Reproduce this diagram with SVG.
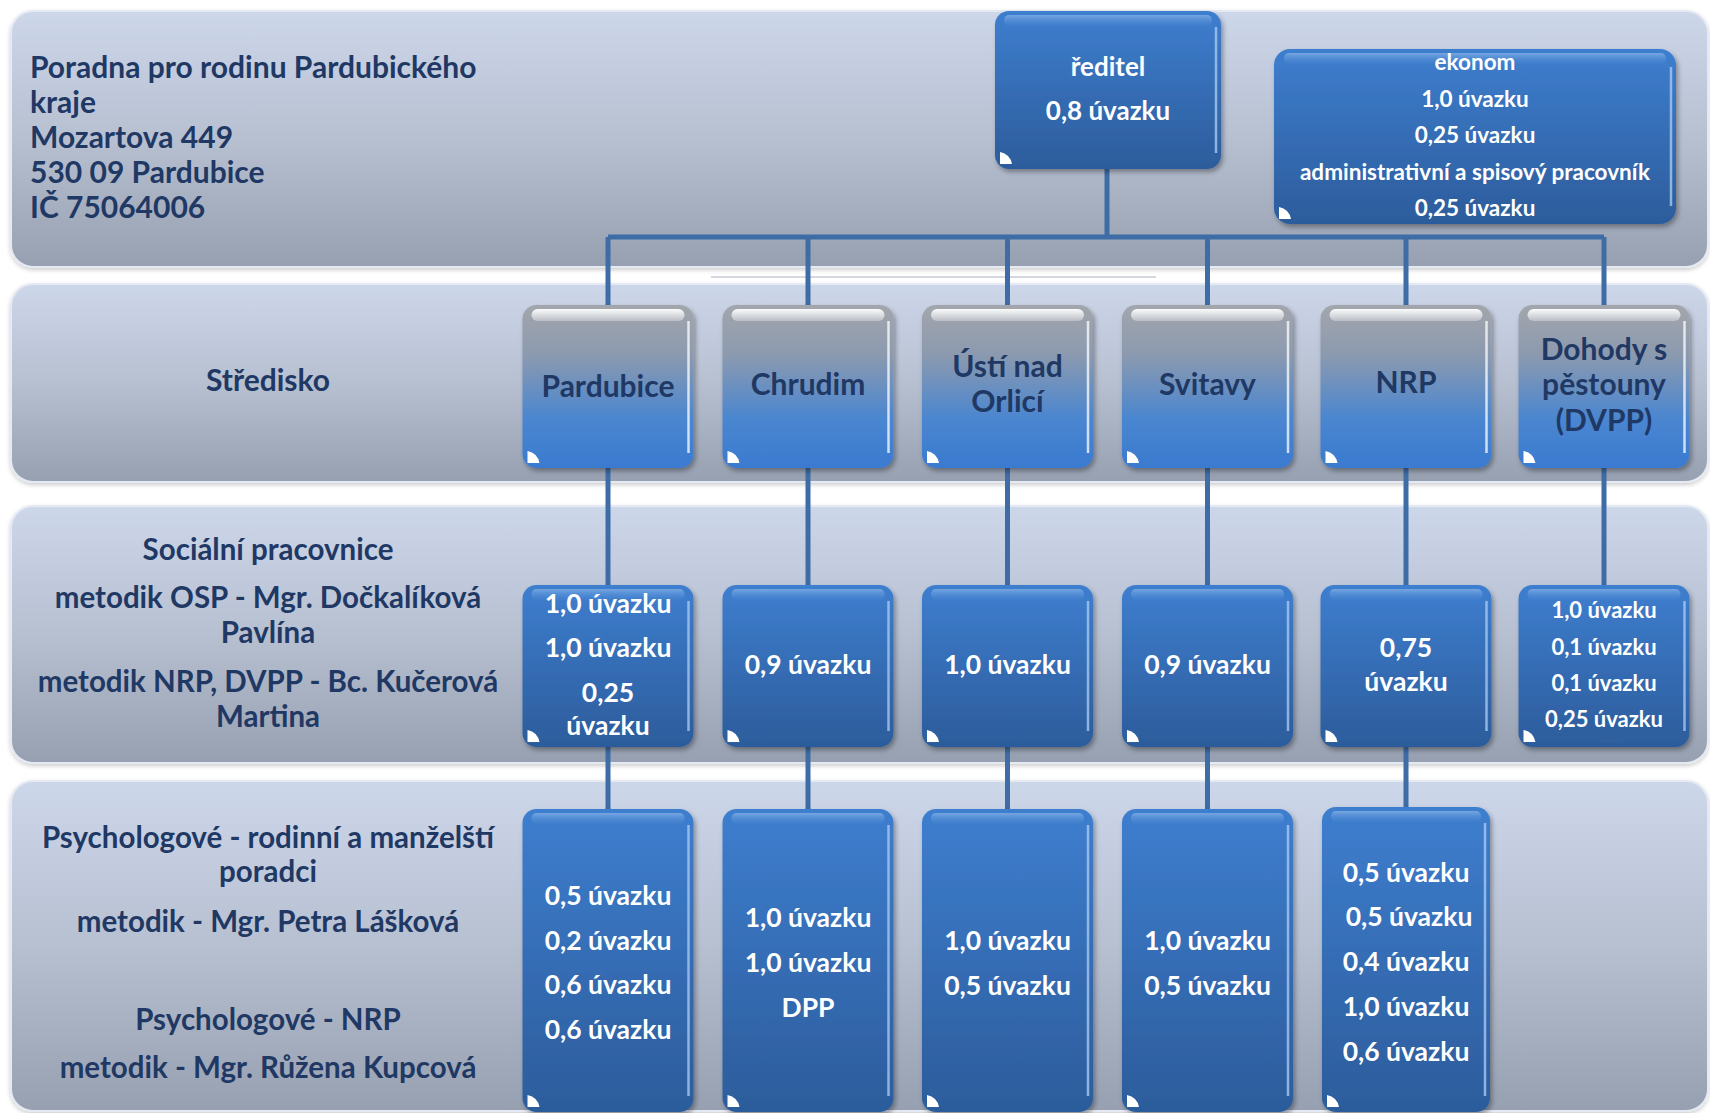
<svg xmlns="http://www.w3.org/2000/svg" width="1710" height="1113" viewBox="0 0 1710 1113">
<defs>
<linearGradient id="bandG" x1="0" y1="0" x2="0" y2="1">
<stop offset="0" stop-color="#cdd7ea"/>
<stop offset="0.5" stop-color="#b7c0d1"/>
<stop offset="1" stop-color="#97a0b1"/>
</linearGradient>
<linearGradient id="greyBlue" x1="0" y1="0" x2="0" y2="1">
<stop offset="0" stop-color="#a3a6ac"/>
<stop offset="0.3" stop-color="#8c9aaf"/>
<stop offset="0.7" stop-color="#4a86d0"/>
<stop offset="1" stop-color="#3a7ad0"/>
</linearGradient>
<linearGradient id="blueG" x1="0" y1="0" x2="0" y2="1">
<stop offset="0" stop-color="#3e7ecf"/>
<stop offset="1" stop-color="#2c5c9b"/>
</linearGradient>
<linearGradient id="glossW" x1="0" y1="0" x2="0" y2="1">
<stop offset="0" stop-color="#ffffff" stop-opacity="0.95"/>
<stop offset="1" stop-color="#ffffff" stop-opacity="0.3"/>
</linearGradient>
<linearGradient id="glossB" x1="0" y1="0" x2="0" y2="1">
<stop offset="0" stop-color="#8fb8ea" stop-opacity="0.7"/>
<stop offset="1" stop-color="#4a88d4" stop-opacity="0.2"/>
</linearGradient>
<filter id="sh" x="-10%" y="-10%" width="120%" height="120%">
<feDropShadow dx="2" dy="3" stdDeviation="2.5" flood-color="#000" flood-opacity="0.35"/>
</filter>
<filter id="shb" x="-5%" y="-5%" width="110%" height="110%">
<feDropShadow dx="0" dy="2" stdDeviation="2" flood-color="#000" flood-opacity="0.2"/>
</filter>
</defs>
<style>
.band{fill:url(#bandG);stroke:#e4e9f3;stroke-width:2;filter:url(#shb)}
.r2{fill:url(#greyBlue);filter:url(#sh)}
.rb{fill:url(#blueG);filter:url(#sh)}
.glw{fill:url(#glossW)}
.glb{fill:url(#glossB)}
.hl{stroke:#ffffff;stroke-opacity:0.75;stroke-width:2.5;fill:none}
.hlb{stroke:#a8c8f0;stroke-opacity:0.8;stroke-width:2.5;fill:none}
.cn{fill:#ffffff}
text{font-family:Lato,"Liberation Sans","DejaVu Sans",sans-serif;font-weight:700;text-anchor:middle}
.dk{fill:#1f3864;font-size:30px}
.lb{fill:#1f3864;font-size:29.5px}
.tt{fill:#1f3864;font-size:30px;text-anchor:start}
.wt{fill:#ffffff;font-size:26.5px}
.wr{fill:#ffffff;font-size:26px}
.ws{fill:#ffffff;font-size:22px}
.we{fill:#ffffff;font-size:22.5px}
.conn{stroke:#3d6ca6;stroke-width:5;fill:none}
</style>
<rect width="1710" height="1113" fill="#ffffff"/>
<g id="bands">
<rect id="band1" class="band" x="11" y="11" width="1697" height="256" rx="22"/>
<rect id="band2" class="band" x="11" y="284" width="1697" height="198" rx="22"/>
<rect id="band3" class="band" x="11" y="506" width="1697" height="257" rx="22"/>
<rect id="band4" class="band" x="11" y="781" width="1697" height="330" rx="22"/>
<path d="M711,277 H1156" stroke="#d3d7df" stroke-width="2"/>
</g>
<g id="title">
<text class="tt" x="30" y="78">Poradna pro rodinu Pardubického</text>
<text class="tt" x="30" y="113">kraje</text>
<text class="tt" x="30" y="148">Mozartova 449</text>
<text class="tt" x="30" y="183">530 09 Pardubice</text>
<text class="tt" x="30" y="218">IČ 75064006</text>
</g>
<g id="label-stredisko">
<text class="dk" x="268" y="391">Středisko</text>
</g>
<g id="label-socialni">
<text class="lb" x="268" y="560">Sociální pracovnice</text>
<text class="lb" x="268" y="608">metodik OSP - Mgr. Dočkalíková</text>
<text class="lb" x="268" y="643">Pavlína</text>
<text class="lb" x="268" y="692">metodik NRP, DVPP - Bc. Kučerová</text>
<text class="lb" x="268" y="727">Martina</text>
</g>
<g id="label-psychologove">
<text class="lb" x="268" y="848">Psychologové - rodinní a manželští</text>
<text class="lb" x="268" y="882">poradci</text>
<text class="lb" x="268" y="932">metodik - Mgr. Petra Lášková</text>
<text class="lb" x="268" y="1030">Psychologové - NRP</text>
<text class="lb" x="268" y="1078">metodik - Mgr. Růžena Kupcová</text>
</g>
<g id="connectors">
<path class="conn" d="M1107,169 V237"/>
<path class="conn" d="M608,237 H1604"/>
<path class="conn" d="M608,237 V305 M808,237 V305 M1007.5,237 V305 M1207.5,237 V305 M1406,237 V305 M1604,237 V305"/>
<path class="conn" d="M608,468 V585 M808,468 V585 M1007.5,468 V585 M1207.5,468 V585 M1406,468 V585 M1604,468 V585"/>
<path class="conn" d="M608,747 V809 M808,747 V809 M1007.5,747 V809 M1207.5,747 V809 M1406,747 V807"/>
</g>
<g id="reditel" transform="translate(995,11)">
<rect class="rb" width="226" height="158" rx="14"/>
<rect class="glb" x="9" y="4" width="208" height="11" rx="5"/>
<path class="hlb" d="M221,16 V142"/>
<path class="cn" d="M5,141 V153 H17 Q15,143 5,141 Z"/>
<text class="wr" x="113" y="65">ředitel</text>
<text class="wr" x="113" y="109">0,8 úvazku</text>
</g>
<g id="ekonom" transform="translate(1274,49)">
<rect class="rb" width="402" height="175" rx="16"/>
<rect class="glb" x="10" y="4" width="382" height="11" rx="5"/>
<path class="hlb" d="M397,18 V157"/>
<path class="cn" d="M5,158 V170 H17 Q15,160 5,158 Z"/>
<text class="we" x="201" y="21">ekonom</text>
<text class="we" x="201" y="58">1,0 úvazku</text>
<text class="we" x="201" y="94">0,25 úvazku</text>
<text class="we" x="201" y="131">administrativní a spisový pracovník</text>
<text class="we" x="201" y="167">0,25 úvazku</text>
</g>
<g id="st-pardubice" transform="translate(522.5,305)">
<rect class="r2" width="171" height="163" rx="14"/>
<rect class="glw" x="9" y="4" width="153" height="12" rx="6"/>
<path class="hl" d="M166,16 V148"/>
<path class="cn" d="M5,146 V158 H17 Q15,148 5,146 Z"/>
<text class="dk" x="85.5" y="92">Pardubice</text>
</g>
<g id="st-chrudim" transform="translate(722.5,305)">
<rect class="r2" width="171" height="163" rx="14"/>
<rect class="glw" x="9" y="4" width="153" height="12" rx="6"/>
<path class="hl" d="M166,16 V148"/>
<path class="cn" d="M5,146 V158 H17 Q15,148 5,146 Z"/>
<text class="dk" x="85.5" y="90">Chrudim</text>
</g>
<g id="st-usti" transform="translate(922,305)">
<rect class="r2" width="171" height="163" rx="14"/>
<rect class="glw" x="9" y="4" width="153" height="12" rx="6"/>
<path class="hl" d="M166,16 V148"/>
<path class="cn" d="M5,146 V158 H17 Q15,148 5,146 Z"/>
<text class="dk" x="85.5" y="72">Ústí nad</text>
<text class="dk" x="85.5" y="107">Orlicí</text>
</g>
<g id="st-svitavy" transform="translate(1122,305)">
<rect class="r2" width="171" height="163" rx="14"/>
<rect class="glw" x="9" y="4" width="153" height="12" rx="6"/>
<path class="hl" d="M166,16 V148"/>
<path class="cn" d="M5,146 V158 H17 Q15,148 5,146 Z"/>
<text class="dk" x="85.5" y="90">Svitavy</text>
</g>
<g id="st-nrp" transform="translate(1320.5,305)">
<rect class="r2" width="171" height="163" rx="14"/>
<rect class="glw" x="9" y="4" width="153" height="12" rx="6"/>
<path class="hl" d="M166,16 V148"/>
<path class="cn" d="M5,146 V158 H17 Q15,148 5,146 Z"/>
<text class="dk" x="85.5" y="88">NRP</text>
</g>
<g id="st-dvpp" transform="translate(1518.5,305)">
<rect class="r2" width="171" height="163" rx="14"/>
<rect class="glw" x="9" y="4" width="153" height="12" rx="6"/>
<path class="hl" d="M166,16 V148"/>
<path class="cn" d="M5,146 V158 H17 Q15,148 5,146 Z"/>
<text class="dk" x="85.5" y="55">Dohody s</text>
<text class="dk" x="85.5" y="90">pěstouny</text>
<text class="dk" x="85.5" y="126">(DVPP)</text>
</g>
<g id="sp-pardubice" transform="translate(522.5,585)">
<rect class="rb" width="171" height="162" rx="14"/>
<rect class="glb" x="9" y="4" width="153" height="11" rx="5"/>
<path class="hlb" d="M166,16 V146"/>
<path class="cn" d="M5,145 V157 H17 Q15,147 5,145 Z"/>
<text class="wt" x="85.5" y="28">1,0 úvazku</text>
<text class="wt" x="85.5" y="72">1,0 úvazku</text>
<text class="wt" x="85.5" y="117">0,25</text>
<text class="wt" x="85.5" y="150">úvazku</text>
</g>
<g id="sp-chrudim" transform="translate(722.5,585)">
<rect class="rb" width="171" height="162" rx="14"/>
<rect class="glb" x="9" y="4" width="153" height="11" rx="5"/>
<path class="hlb" d="M166,16 V146"/>
<path class="cn" d="M5,145 V157 H17 Q15,147 5,145 Z"/>
<text class="wt" x="85.5" y="89">0,9 úvazku</text>
</g>
<g id="sp-usti" transform="translate(922,585)">
<rect class="rb" width="171" height="162" rx="14"/>
<rect class="glb" x="9" y="4" width="153" height="11" rx="5"/>
<path class="hlb" d="M166,16 V146"/>
<path class="cn" d="M5,145 V157 H17 Q15,147 5,145 Z"/>
<text class="wt" x="85.5" y="89">1,0 úvazku</text>
</g>
<g id="sp-svitavy" transform="translate(1122,585)">
<rect class="rb" width="171" height="162" rx="14"/>
<rect class="glb" x="9" y="4" width="153" height="11" rx="5"/>
<path class="hlb" d="M166,16 V146"/>
<path class="cn" d="M5,145 V157 H17 Q15,147 5,145 Z"/>
<text class="wt" x="85.5" y="89">0,9 úvazku</text>
</g>
<g id="sp-nrp" transform="translate(1320.5,585)">
<rect class="rb" width="171" height="162" rx="14"/>
<rect class="glb" x="9" y="4" width="153" height="11" rx="5"/>
<path class="hlb" d="M166,16 V146"/>
<path class="cn" d="M5,145 V157 H17 Q15,147 5,145 Z"/>
<text class="wt" x="85.5" y="72">0,75</text>
<text class="wt" x="85.5" y="106">úvazku</text>
</g>
<g id="sp-dvpp" transform="translate(1518.5,585)">
<rect class="rb" width="171" height="162" rx="14"/>
<rect class="glb" x="9" y="4" width="153" height="11" rx="5"/>
<path class="hlb" d="M166,16 V146"/>
<path class="cn" d="M5,145 V157 H17 Q15,147 5,145 Z"/>
<text class="ws" x="85.5" y="33">1,0 úvazku</text>
<text class="ws" x="85.5" y="70">0,1 úvazku</text>
<text class="ws" x="85.5" y="106">0,1 úvazku</text>
<text class="ws" x="85.5" y="142">0,25 úvazku</text>
<rect x="81.5" y="152" width="23" height="6" fill="#2f5f9c"/>
</g>
<g id="ps-pardubice" transform="translate(522.5,809)">
<rect class="rb" width="171" height="303" rx="14"/>
<rect class="glb" x="9" y="4" width="153" height="11" rx="5"/>
<path class="hlb" d="M166,16 V287"/>
<path class="cn" d="M5,286 V298 H17 Q15,288 5,286 Z"/>
<text class="wt" x="85.5" y="96">0,5 úvazku</text>
<text class="wt" x="85.5" y="141">0,2 úvazku</text>
<text class="wt" x="85.5" y="185">0,6 úvazku</text>
<text class="wt" x="85.5" y="230">0,6 úvazku</text>
</g>
<g id="ps-chrudim" transform="translate(722.5,809)">
<rect class="rb" width="171" height="303" rx="14"/>
<rect class="glb" x="9" y="4" width="153" height="11" rx="5"/>
<path class="hlb" d="M166,16 V287"/>
<path class="cn" d="M5,286 V298 H17 Q15,288 5,286 Z"/>
<text class="wt" x="85.5" y="118">1,0 úvazku</text>
<text class="wt" x="85.5" y="163">1,0 úvazku</text>
<text class="wt" x="85.5" y="208">DPP</text>
</g>
<g id="ps-usti" transform="translate(922,809)">
<rect class="rb" width="171" height="303" rx="14"/>
<rect class="glb" x="9" y="4" width="153" height="11" rx="5"/>
<path class="hlb" d="M166,16 V287"/>
<path class="cn" d="M5,286 V298 H17 Q15,288 5,286 Z"/>
<text class="wt" x="85.5" y="141">1,0 úvazku</text>
<text class="wt" x="85.5" y="186">0,5 úvazku</text>
</g>
<g id="ps-svitavy" transform="translate(1122,809)">
<rect class="rb" width="171" height="303" rx="14"/>
<rect class="glb" x="9" y="4" width="153" height="11" rx="5"/>
<path class="hlb" d="M166,16 V287"/>
<path class="cn" d="M5,286 V298 H17 Q15,288 5,286 Z"/>
<text class="wt" x="85.5" y="141">1,0 úvazku</text>
<text class="wt" x="85.5" y="186">0,5 úvazku</text>
</g>
<g id="ps-nrp" transform="translate(1322,807)">
<rect class="rb" width="168" height="305" rx="14"/>
<rect class="glb" x="9" y="4" width="150" height="11" rx="5"/>
<path class="hlb" d="M163,16 V289"/>
<path class="cn" d="M5,288 V300 H17 Q15,290 5,288 Z"/>
<text class="wt" x="84" y="75">0,5 úvazku</text>
<text class="wt" x="87" y="119">0,5 úvazku</text>
<text class="wt" x="84" y="164">0,4 úvazku</text>
<text class="wt" x="84" y="209">1,0 úvazku</text>
<text class="wt" x="84" y="254">0,6 úvazku</text>
</g>
</svg>
